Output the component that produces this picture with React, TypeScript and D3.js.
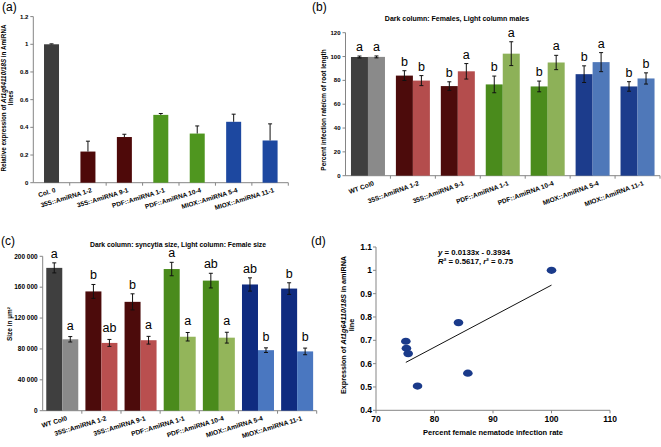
import React, { useEffect, useRef } from 'react';
import * as d3 from 'd3';

// ---- data ----
const linesA = ['Col. 0', '35S::AmiRNA 1-2', '35S::AmiRNA 9-1', 'PDF::AmiRNA 1-1', 'PDF::AmiRNA 10-4', 'MIOX::AmiRNA 5-4', 'MIOX::AmiRNA 11-1'];
const linesBC = ['WT Col0', '35S::AmiRNA 1-2', '35S::AmiRNA 9-1', 'PDF::AmiRNA 1-1', 'PDF::AmiRNA 10-4', 'MIOX::AmiRNA 5-4', 'MIOX::AmiRNA 11-1'];
const family = [0, 1, 1, 2, 2, 3, 3];

// (a) relative expression
const exprMean = [1.0, 0.225, 0.33, 0.49, 0.355, 0.44, 0.305];
const exprErr = [0.003, 0.075, 0.02, 0.01, 0.055, 0.055, 0.12];
const ticksA = [0, 0.2, 0.4, 0.6, 0.8, 1, 1.2];

// (b) infection rate
const femaleRate = [99.6, 84, 75.2, 76.6, 74.9, 85.2, 74.9];
const femaleRateErr = [0.8, 4.1, 3.6, 7, 4.5, 7, 4];
const femaleRateLetters = ['a', 'b', 'b', 'b', 'b', 'b', 'b'];
const maleRate = [99.7, 79.8, 87.6, 102.4, 95, 95.3, 81.6];
const maleRateErr = [0.8, 4.2, 6.5, 10, 6, 8, 4.7];
const maleRateLetters = ['a', 'b', 'a', 'a', 'a', 'a', 'b'];
const ticksB = [0, 20, 40, 60, 80, 100, 120];

// (c) sizes
const syncytiaSize = [185000, 154500, 141000, 183500, 168500, 163500, 158200];
const syncytiaErr = [6500, 9000, 10400, 8700, 9500, 8600, 7500];
const syncytiaLetters = ['a', 'b', 'b', 'a', 'ab', 'ab', 'b'];
const femaleSize = [92500, 87800, 91300, 95800, 94600, 78400, 76800];
const femaleSizeErr = [3500, 4500, 5000, 5500, 7000, 3000, 4300];
const femaleSizeLetters = ['a', 'ab', 'a', 'a', 'a', 'b', 'b'];
const ticksC = [0, 40000, 80000, 120000, 160000, 200000];

// (d) correlation
const infectionRate = [100, 84.1, 75.1, 75.2, 75.5, 85.7, 77.1];
const expression = [1.0, 0.776, 0.696, 0.666, 0.643, 0.559, 0.504];
const slope = 0.0133;
const intercept = -0.3934;
const ticksDx = [70, 80, 90, 100, 110];
const ticksDy = [0.4, 0.5, 0.6, 0.7, 0.8, 0.9, 1, 1.1];

// colours per family
const colorsA = ['#3d3d3d', '#4e0909', '#4f961f', '#1d48a0'];
const darkColors = ['#3f3f3f', '#4c0b0b', '#4a8b1c', '#1c3c8c'];
const lightColors = ['#8a8a8a', '#b44d4d', '#8db158', '#4f78b9'];
const darkColorsC = ['#3f3f3f', '#4c0b0b', '#4a8b1c', '#0f2b80'];
const lightColorsC = ['#8a8a8a', '#b94f4f', '#93b55a', '#4a77c0'];

const FONT = 'Arial, "Liberation Sans", sans-serif';
const AXIS = '#858585';

function barPanel(root, o) {
  const g = root.append('g');
  const x = d3.scaleBand().domain(o.categories).range([o.x0, o.x1]);
  const y = d3.scaleLinear().domain([0, o.yMax]).range([o.y0, o.yTop]);

  // y axis
  g.append('line').attr('x1', o.x0).attr('x2', o.x0).attr('y1', o.y0).attr('y2', y(o.yMax))
    .attr('stroke', AXIS).attr('stroke-width', 1);
  g.selectAll('.ytick').data(o.ticks).enter().append('line')
    .attr('x1', o.x0 - 3).attr('x2', o.x0).attr('y1', d => y(d)).attr('y2', d => y(d))
    .attr('stroke', AXIS);
  g.selectAll('.ylab').data(o.ticks).enter().append('text')
    .attr('x', o.x0 - 5).attr('y', d => y(d)).attr('dy', '0.35em')
    .attr('text-anchor', 'end').attr('font-size', o.tickSize).attr('font-weight', 'bold')
    .text(o.tickFormat);

  // x axis
  g.append('line').attr('x1', o.x0).attr('x2', o.x1).attr('y1', o.y0).attr('y2', o.y0)
    .attr('stroke', AXIS);
  g.selectAll('.xtick').data(d3.range(1, o.categories.length + 1)).enter().append('line')
    .attr('x1', i => o.x0 + i * x.bandwidth()).attr('x2', i => o.x0 + i * x.bandwidth())
    .attr('y1', o.y0).attr('y2', o.y0 + 3).attr('stroke', AXIS);

  const groupW = o.barWidth * o.series.length;
  o.series.forEach((s, si) => {
    const items = s.values.map((v, i) => ({
      v, e: s.errors[i], c: o.categories[i], f: family[i], letter: s.letters ? s.letters[i] : null,
      cx: x(o.categories[i]) + x.bandwidth() / 2 - groupW / 2 + si * o.barWidth + o.barWidth / 2,
    }));
    const sg = g.append('g');
    sg.selectAll('rect').data(items).enter().append('rect')
      .attr('x', d => d.cx - o.barWidth / 2).attr('width', o.barWidth)
      .attr('y', d => y(d.v)).attr('height', d => o.y0 - y(d.v))
      .attr('fill', d => s.colors[d.f]);
    // error bars
    const eb = sg.selectAll('.err').data(items).enter().append('g');
    eb.append('line').attr('x1', d => d.cx).attr('x2', d => d.cx)
      .attr('y1', d => (s.oneSided ? y(d.v) : y(d.v - d.e))).attr('y2', d => y(d.v + d.e))
      .attr('stroke', '#111').attr('stroke-width', 1);
    eb.append('line').attr('x1', d => d.cx - 2).attr('x2', d => d.cx + 2)
      .attr('y1', d => y(d.v + d.e)).attr('y2', d => y(d.v + d.e))
      .attr('stroke', '#111');
    if (!s.oneSided) {
      eb.append('line').attr('x1', d => d.cx - 2).attr('x2', d => d.cx + 2)
        .attr('y1', d => y(d.v - d.e)).attr('y2', d => y(d.v - d.e))
        .attr('stroke', '#111');
    }
    if (s.letters) {
      sg.selectAll('.letter').data(items).enter().append('text')
        .attr('x', d => d.cx).attr('y', d => y(d.v + d.e) - s.letterGap)
        .attr('text-anchor', 'middle').attr('font-size', 12.5)
        .text(d => d.letter);
    }
  });

  // rotated category labels
  g.selectAll('.xlab').data(o.labels).enter().append('text')
    .attr('transform', (d, i) => `translate(${x(o.categories[i]) + x.bandwidth() / 2 + o.labelDx},${o.y0 + o.labelDy}) rotate(${o.labelAngle})`)
    .attr('text-anchor', 'end').attr('dy', '0.7em')
    .attr('font-size', o.labelSize).attr('font-weight', 'bold')
    .text(d => d);
  return g;
}

function yLabel(root, x, cy, size, parts) {
  const t = root.append('text')
    .attr('transform', `translate(${x},${cy}) rotate(-90)`)
    .attr('text-anchor', 'middle').attr('font-size', size).attr('font-weight', 'bold');
  parts.forEach(([txt, italic]) => {
    t.append('tspan').attr('font-style', italic ? 'italic' : 'normal').text(txt);
  });
}

const App = () => {
  const svgRef = useRef(null);

  useEffect(() => {
    const svg = d3.select(svgRef.current);
    svg.selectAll('*').remove();
    svg.attr('font-family', FONT);

    // ---- panel (a) ----
    barPanel(svg, {
      categories: linesA, labels: linesA, x0: 33.3, x1: 288.3, y0: 182.7, yTop: 16.6, yMax: 1.2,
      ticks: ticksA, tickFormat: d => d3.format('~g')(d), tickSize: 6,
      barWidth: 15, labelDx: 3, labelDy: 5, labelAngle: -17, labelSize: 6.5,
      series: [{ values: exprMean, errors: exprErr, colors: colorsA, oneSided: true }],
    });
    yLabel(svg, 6, 98, 6.3, [['Relative expression of ', false], ['At1g64110/18S', true], [' in AmiRNA', false]]);
    yLabel(svg, 13, 98, 6.3, [['lines', false]]);
    svg.append('text').attr('x', 2).attr('y', 11).attr('font-size', 12).text('(a)');

    // ---- panel (b) ----
    barPanel(svg, {
      categories: linesBC, labels: linesBC, x0: 345.5, x1: 660, y0: 175.7, yTop: 32.7, yMax: 120,
      ticks: ticksB, tickFormat: d => String(d), tickSize: 6,
      barWidth: 17, labelDx: 5, labelDy: 5, labelAngle: -20, labelSize: 6.6,
      series: [
        { values: femaleRate, errors: femaleRateErr, colors: darkColors, letters: femaleRateLetters, letterGap: 5 },
        { values: maleRate, errors: maleRateErr, colors: lightColors, letters: maleRateLetters, letterGap: 5 },
      ],
    });
    svg.append('text').attr('x', 457).attr('y', 21).attr('text-anchor', 'middle')
      .attr('font-size', 7).attr('font-weight', 'bold').text('Dark column: Females, Light column males');
    yLabel(svg, 326, 110, 6.5, [['Percent infection rate/cm of root length', false]]);
    svg.append('text').attr('x', 312).attr('y', 11).attr('font-size', 12).text('(b)');

    // ---- panel (c) ----
    barPanel(svg, {
      categories: linesBC, labels: linesBC, x0: 42.7, x1: 316.7, y0: 410.7, yTop: 256.3, yMax: 200000,
      ticks: ticksC, tickFormat: d => d3.format(',')(d).replace(/,/g, ' '), tickSize: 6.5,
      barWidth: 16, labelDx: 4, labelDy: 5, labelAngle: -17, labelSize: 6.6,
      series: [
        { values: syncytiaSize, errors: syncytiaErr, colors: darkColorsC, letters: syncytiaLetters, letterGap: 5 },
        { values: femaleSize, errors: femaleSizeErr, colors: lightColorsC, letters: femaleSizeLetters, letterGap: 7 },
      ],
    });
    svg.append('text').attr('x', 178).attr('y', 246.5).attr('text-anchor', 'middle')
      .attr('font-size', 6.8).attr('font-weight', 'bold').text('Dark column: syncytia size, Light column: Female size');
    yLabel(svg, 12, 324, 6.5, [['Size in µm²', false]]);
    svg.append('text').attr('x', 1).attr('y', 245).attr('font-size', 12).text('(c)');

    // ---- panel (d) ----
    const gd = svg.append('g');
    const xd = d3.scaleLinear().domain([70, 110]).range([376, 610]);
    const yd = d3.scaleLinear().domain([0.4, 1.1]).range([410.3, 247]);
    gd.append('line').attr('x1', 376).attr('x2', 376).attr('y1', yd(0.4)).attr('y2', yd(1.1)).attr('stroke', AXIS);
    gd.append('line').attr('x1', xd(70)).attr('x2', xd(110)).attr('y1', 410.3).attr('y2', 410.3).attr('stroke', AXIS);
    gd.selectAll('.yt').data(ticksDy).enter().append('line')
      .attr('x1', 373).attr('x2', 376).attr('y1', d => yd(d)).attr('y2', d => yd(d)).attr('stroke', AXIS);
    gd.selectAll('.xt').data(ticksDx).enter().append('line')
      .attr('x1', d => xd(d)).attr('x2', d => xd(d)).attr('y1', 410.3).attr('y2', 413.3).attr('stroke', AXIS);
    gd.selectAll('.yl').data(ticksDy).enter().append('text')
      .attr('x', 372).attr('y', d => yd(d)).attr('dy', '0.35em').attr('text-anchor', 'end')
      .attr('font-size', 8.5).attr('font-weight', 'bold').text(d => d3.format('~g')(d));
    gd.selectAll('.xl').data(ticksDx).enter().append('text')
      .attr('x', d => xd(d)).attr('y', 421.5).attr('text-anchor', 'middle')
      .attr('font-size', 8.5).attr('font-weight', 'bold').text(d => d);
    const xMin = d3.min(infectionRate), xMax = d3.max(infectionRate);
    gd.append('line').attr('x1', xd(xMin)).attr('y1', yd(slope * xMin + intercept))
      .attr('x2', xd(xMax)).attr('y2', yd(slope * xMax + intercept))
      .attr('stroke', '#111').attr('stroke-width', 1);
    gd.selectAll('ellipse').data(infectionRate).enter().append('ellipse')
      .attr('cx', d => xd(d)).attr('cy', (d, i) => yd(expression[i]))
      .attr('rx', 4.8).attr('ry', 3.6).attr('fill', '#1a3a8a');
    const eq = gd.append('text').attr('x', 438).attr('y', 255).attr('font-size', 7.8).attr('font-weight', 'bold');
    eq.append('tspan').attr('font-style', 'italic').text('y');
    eq.append('tspan').text(' = 0.0133x - 0.3934');
    const r2 = gd.append('text').attr('x', 438).attr('y', 264).attr('font-size', 7.8).attr('font-weight', 'bold');
    r2.append('tspan').attr('font-style', 'italic').text('R');
    r2.append('tspan').text('² = 0.5617, ');
    r2.append('tspan').attr('font-style', 'italic').text('r');
    r2.append('tspan').text('² = 0.75');
    gd.append('text').attr('x', 493).attr('y', 435).attr('text-anchor', 'middle')
      .attr('font-size', 7.5).attr('font-weight', 'bold').text('Percent female nematode infection rate');
    yLabel(svg, 345.5, 325, 7.2, [['Expression of ', false], ['At1g64110/18S', true], [' in amiRNA', false]]);
    yLabel(svg, 354, 325, 7.2, [['line', false]]);
    svg.append('text').attr('x', 311).attr('y', 245).attr('font-size', 12).text('(d)');
  }, []);

  return (
    <svg ref={svgRef} width={661} height={447}
      style={{ position: 'absolute', left: 0, top: 0, background: '#fff' }} />
  );
};

export default App;
